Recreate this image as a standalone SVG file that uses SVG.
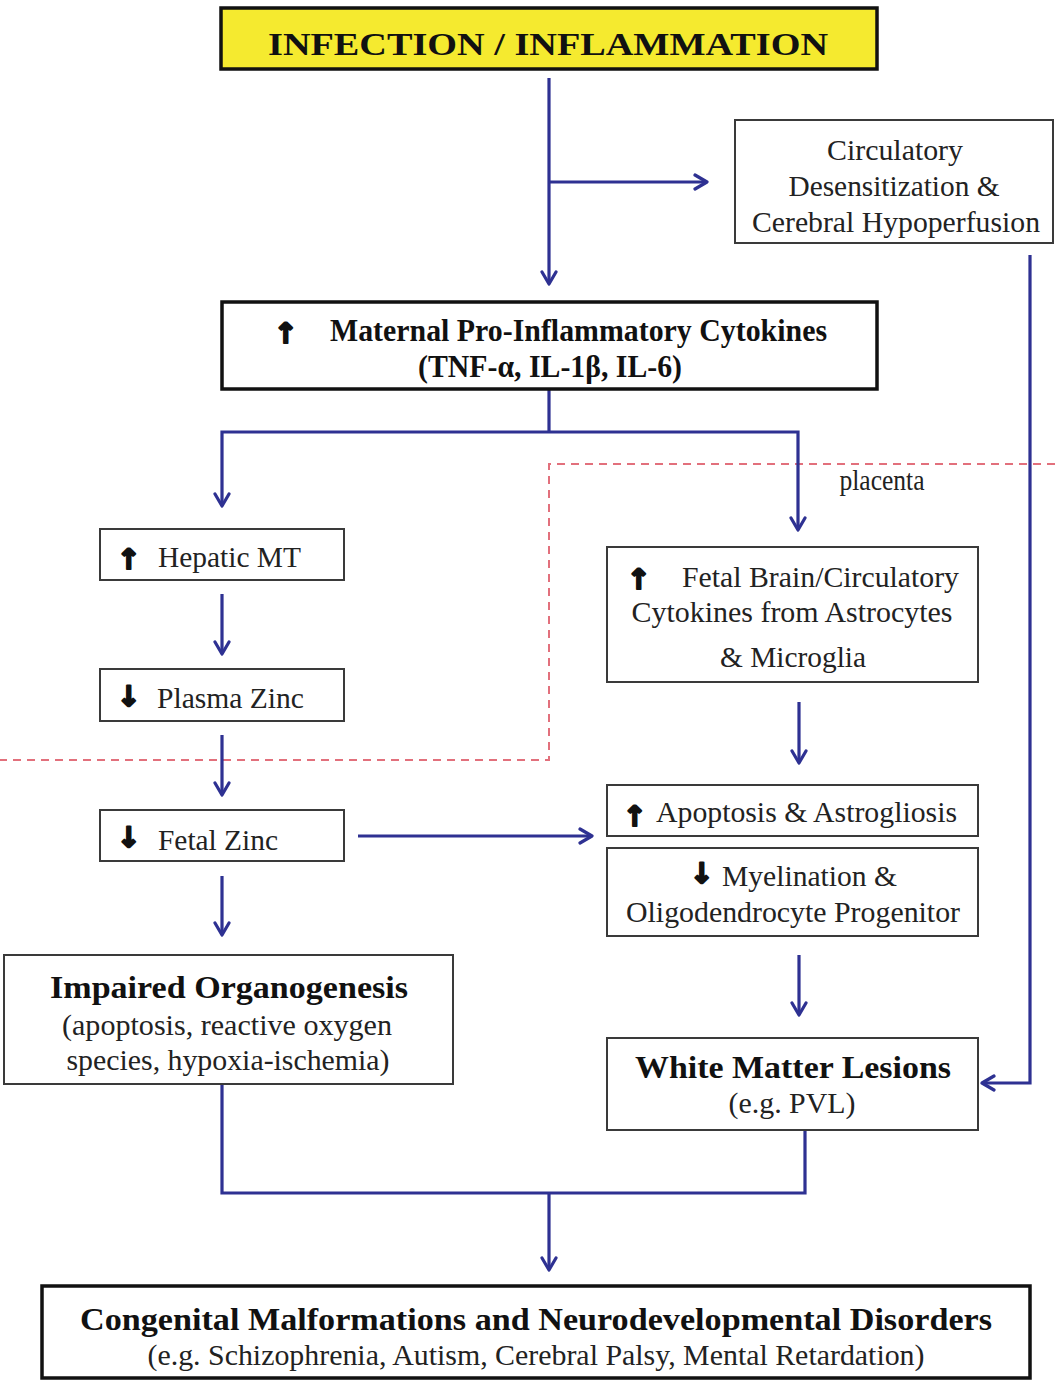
<svg xmlns="http://www.w3.org/2000/svg" width="1055" height="1380" viewBox="0 0 1055 1380">
<style>
.box{fill:#fff;stroke:#3a3a3a;stroke-width:2}
.thick{fill:#fff;stroke:#111;stroke-width:3.5}
.t{font-family:"Liberation Serif","Times New Roman",serif;font-size:29px;fill:#222}
.b{font-family:"Liberation Serif","Times New Roman",serif;font-size:32px;font-weight:bold;fill:#111}
.ar{font-family:"DejaVu Sans",sans-serif;font-size:28px;font-weight:bold;fill:#111;stroke:#111;stroke-width:2.2;stroke-linejoin:round}
.c{fill:none;stroke:#2e3192;stroke-width:3.2}
.pl{fill:none;stroke:#e2707c;stroke-width:2;stroke-dasharray:8,6}
</style>
<defs>
<marker id="ah" viewBox="0 0 16 18" refX="14" refY="9" markerWidth="16" markerHeight="18" markerUnits="userSpaceOnUse" orient="auto">
<path d="M2,2 L14,9 L2,16" fill="none" stroke="#2e3192" stroke-width="3.2" stroke-linecap="round" stroke-linejoin="round"/>
</marker>
</defs>
<rect width="1055" height="1380" fill="#fff"/>

<g id="placenta">
<path class="pl" d="M1055,464 H549 V760 H0"/>
<text class="t" x="882" y="490" font-size="22" text-anchor="middle" textLength="85" lengthAdjust="spacingAndGlyphs">placenta</text>
</g>

<g id="connectors">
<path class="c" d="M549,78 V284" marker-end="url(#ah)"/>
<path class="c" d="M549,182 H707" marker-end="url(#ah)"/>
<path class="c" d="M1030,255 V1083 H982" marker-end="url(#ah)"/>
<path class="c" d="M549,389 V432"/>
<path class="c" d="M549,432 H222 V506" marker-end="url(#ah)"/>
<path class="c" d="M549,432 H798 V530" marker-end="url(#ah)"/>
<path class="c" d="M222,594 V654" marker-end="url(#ah)"/>
<path class="c" d="M222,735 V795" marker-end="url(#ah)"/>
<path class="c" d="M358,836 H592" marker-end="url(#ah)"/>
<path class="c" d="M222,876 V935" marker-end="url(#ah)"/>
<path class="c" d="M799,702 V763" marker-end="url(#ah)"/>
<path class="c" d="M799,955 V1015" marker-end="url(#ah)"/>
<path class="c" d="M222,1084 V1193 H805 V1130"/>
<path class="c" d="M549,1193 V1270" marker-end="url(#ah)"/>
</g>

<g id="infection">
<rect x="221" y="8" width="656" height="61" fill="#f5ea2f" stroke="#111" stroke-width="3.5"/>
<text class="b" x="548" y="55" font-size="38" text-anchor="middle" textLength="560" lengthAdjust="spacingAndGlyphs">INFECTION / INFLAMMATION</text>
</g>

<g id="circulatory">
<rect class="box" x="735" y="120" width="318" height="123"/>
<text class="t" x="895" y="160" text-anchor="middle" textLength="136" lengthAdjust="spacingAndGlyphs">Circulatory</text>
<text class="t" x="894" y="196" text-anchor="middle" textLength="211" lengthAdjust="spacingAndGlyphs">Desensitization &amp;</text>
<text class="t" x="896" y="232" text-anchor="middle" textLength="288" lengthAdjust="spacingAndGlyphs">Cerebral Hypoperfusion</text>
</g>

<g id="maternal">
<rect class="thick" x="222" y="302" width="655" height="87"/>
<text class="ar" x="274" y="343">↑</text>
<text class="b" x="330" y="341" font-size="29" textLength="497" lengthAdjust="spacingAndGlyphs">Maternal Pro-Inflammatory Cytokines</text>
<text class="b" x="550" y="377" font-size="29" text-anchor="middle" textLength="264" lengthAdjust="spacingAndGlyphs">(TNF-α, IL-1β, IL-6)</text>
</g>

<g id="hepatic">
<rect class="box" x="100" y="529" width="244" height="51"/>
<text class="ar" x="117" y="569">↑</text>
<text class="t" x="158" y="567" textLength="143" lengthAdjust="spacingAndGlyphs">Hepatic MT</text>
</g>

<g id="plasma">
<rect class="box" x="100" y="669" width="244" height="52"/>
<text class="ar" x="117" y="706">↓</text>
<text class="t" x="157" y="708" textLength="147" lengthAdjust="spacingAndGlyphs">Plasma Zinc</text>
</g>

<g id="fetalzinc">
<rect class="box" x="100" y="810" width="244" height="51"/>
<text class="ar" x="117" y="847">↓</text>
<text class="t" x="158" y="850" textLength="120" lengthAdjust="spacingAndGlyphs">Fetal Zinc</text>
</g>

<g id="impaired">
<rect class="box" x="4" y="955" width="449" height="129"/>
<text class="b" x="229" y="998" text-anchor="middle" textLength="358" lengthAdjust="spacingAndGlyphs">Impaired Organogenesis</text>
<text class="t" x="227" y="1035" text-anchor="middle" textLength="330" lengthAdjust="spacingAndGlyphs">(apoptosis, reactive oxygen</text>
<text class="t" x="228" y="1070" text-anchor="middle" textLength="323" lengthAdjust="spacingAndGlyphs">species, hypoxia-ischemia)</text>
</g>

<g id="fetalbrain">
<rect class="box" x="607" y="547" width="371" height="135"/>
<text class="ar" x="627" y="589">↑</text>
<text class="t" x="682" y="587" textLength="277" lengthAdjust="spacingAndGlyphs">Fetal Brain/Circulatory</text>
<text class="t" x="792" y="622" text-anchor="middle" textLength="321" lengthAdjust="spacingAndGlyphs">Cytokines from Astrocytes</text>
<text class="t" x="793" y="667" text-anchor="middle" textLength="146" lengthAdjust="spacingAndGlyphs">&amp; Microglia</text>
</g>

<g id="apoptosis">
<rect class="box" x="607" y="785" width="371" height="51"/>
<text class="ar" x="623" y="826">↑</text>
<text class="t" x="656" y="822" textLength="301" lengthAdjust="spacingAndGlyphs">Apoptosis &amp; Astrogliosis</text>
</g>

<g id="myelination">
<rect class="box" x="607" y="848" width="371" height="88"/>
<text class="ar" x="690" y="883">↓</text>
<text class="t" x="722" y="886" textLength="175" lengthAdjust="spacingAndGlyphs">Myelination &amp;</text>
<text class="t" x="793" y="922" text-anchor="middle" textLength="334" lengthAdjust="spacingAndGlyphs">Oligodendrocyte Progenitor</text>
</g>

<g id="whitematter">
<rect class="box" x="607" y="1038" width="371" height="92"/>
<text class="b" x="793" y="1078" text-anchor="middle" textLength="316" lengthAdjust="spacingAndGlyphs">White Matter Lesions</text>
<text class="t" x="792" y="1113" text-anchor="middle" textLength="127" lengthAdjust="spacingAndGlyphs">(e.g. PVL)</text>
</g>

<g id="congenital">
<rect class="thick" x="42" y="1286" width="988" height="92"/>
<text class="b" x="536" y="1330" font-size="34" text-anchor="middle" textLength="912" lengthAdjust="spacingAndGlyphs">Congenital Malformations and Neurodevelopmental Disorders</text>
<text class="t" x="536" y="1365" text-anchor="middle" textLength="777" lengthAdjust="spacingAndGlyphs">(e.g. Schizophrenia, Autism, Cerebral Palsy, Mental Retardation)</text>
</g>
</svg>
